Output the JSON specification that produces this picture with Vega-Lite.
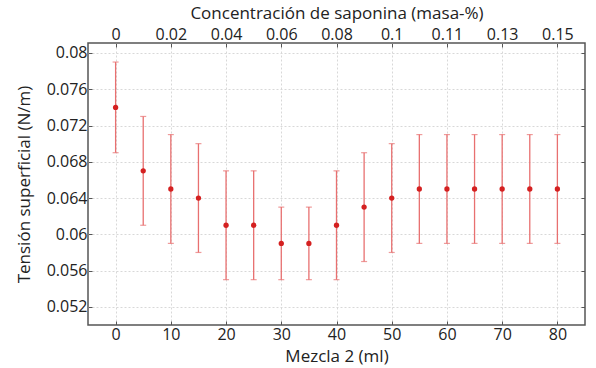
{
  "$schema": "https://vega.github.io/schema/vega-lite/v6.json",
  "width": 497,
  "height": 282,
  "autosize": {"type": "none"},
  "padding": {"left": 88, "top": 43, "right": 11, "bottom": 43},
  "background": "white",
  "config": {
    "font": "Open Sans",
    "view": {"stroke": "#555555", "strokeWidth": 1.5},
    "axis": {
      "labelFont": "Open Sans",
      "titleFont": "Open Sans",
      "labelFontSize": 16,
      "titleFontSize": 17,
      "labelColor": "#222222",
      "titleColor": "#222222",
      "titleFontWeight": "normal",
      "domain": false,
      "tickColor": "#555555",
      "tickSize": -4,
      "grid": true,
      "gridColor": "#d8d8d8",
      "gridDash": [2, 2],
      "gridWidth": 1
    }
  },
  "data": {
    "values": [
      {"x": 0, "y": 0.074, "lo": 0.069, "hi": 0.079},
      {"x": 5, "y": 0.067, "lo": 0.061, "hi": 0.073},
      {"x": 10, "y": 0.065, "lo": 0.059, "hi": 0.071},
      {"x": 15, "y": 0.064, "lo": 0.058, "hi": 0.070},
      {"x": 20, "y": 0.061, "lo": 0.055, "hi": 0.067},
      {"x": 25, "y": 0.061, "lo": 0.055, "hi": 0.067},
      {"x": 30, "y": 0.059, "lo": 0.055, "hi": 0.063},
      {"x": 35, "y": 0.059, "lo": 0.055, "hi": 0.063},
      {"x": 40, "y": 0.061, "lo": 0.055, "hi": 0.067},
      {"x": 45, "y": 0.063, "lo": 0.057, "hi": 0.069},
      {"x": 50, "y": 0.064, "lo": 0.058, "hi": 0.070},
      {"x": 55, "y": 0.065, "lo": 0.059, "hi": 0.071},
      {"x": 60, "y": 0.065, "lo": 0.059, "hi": 0.071},
      {"x": 65, "y": 0.065, "lo": 0.059, "hi": 0.071},
      {"x": 70, "y": 0.065, "lo": 0.059, "hi": 0.071},
      {"x": 75, "y": 0.065, "lo": 0.059, "hi": 0.071},
      {"x": 80, "y": 0.065, "lo": 0.059, "hi": 0.071}
    ]
  },
  "layer": [
    {
      "mark": {"type": "rule", "color": "#e87070", "strokeWidth": 1.3},
      "encoding": {
        "x": {
          "field": "x", "type": "quantitative",
          "scale": {"domain": [-5, 85], "nice": false, "zero": false},
          "axis": {"values": [0, 10, 20, 30, 40, 50, 60, 70, 80], "title": "Mezcla 2 (ml)", "labelPadding": 5, "titlePadding": 6}
        },
        "y": {
          "field": "lo", "type": "quantitative",
          "scale": {"domain": [0.05, 0.0811], "nice": false, "zero": false},
          "axis": {"values": [0.052, 0.056, 0.06, 0.064, 0.068, 0.072, 0.076, 0.08], "format": "~g", "title": "Tensión superficial (N/m)", "labelPadding": 5, "titlePadding": 13}
        },
        "y2": {"field": "hi"}
      }
    },
    {
      "mark": {"type": "tick", "color": "#e87070", "size": 6, "thickness": 1.2, "orient": "horizontal"},
      "encoding": {
        "x": {"field": "x", "type": "quantitative", "axis": null},
        "y": {"field": "lo", "type": "quantitative", "axis": null}
      }
    },
    {
      "mark": {"type": "tick", "color": "#e87070", "size": 6, "thickness": 1.2, "orient": "horizontal"},
      "encoding": {
        "x": {
          "field": "x", "type": "quantitative",
          "axis": {
            "orient": "top",
            "values": [0, 10, 20, 30, 40, 50, 60, 70, 80],
            "labelExpr": "['0','0.02','0.04','0.06','0.08','0.1','0.11','0.13','0.15'][datum.value/10]",
            "title": "Concentración de saponina (masa-%)",
            "grid": false,
            "labelPadding": 5,
            "titlePadding": 4
          }
        },
        "y": {"field": "hi", "type": "quantitative",
          "axis": {"orient": "right", "values": [0.052, 0.056, 0.06, 0.064, 0.068, 0.072, 0.076, 0.08], "labels": false, "title": null, "grid": false}}
      }
    },
    {
      "mark": {"type": "point", "filled": true, "color": "#d42020", "size": 28, "opacity": 1},
      "encoding": {
        "x": {"field": "x", "type": "quantitative", "axis": null},
        "y": {"field": "y", "type": "quantitative", "axis": null}
      }
    }
  ],
  "resolve": {"axis": {"x": "independent", "y": "independent"}}
}
